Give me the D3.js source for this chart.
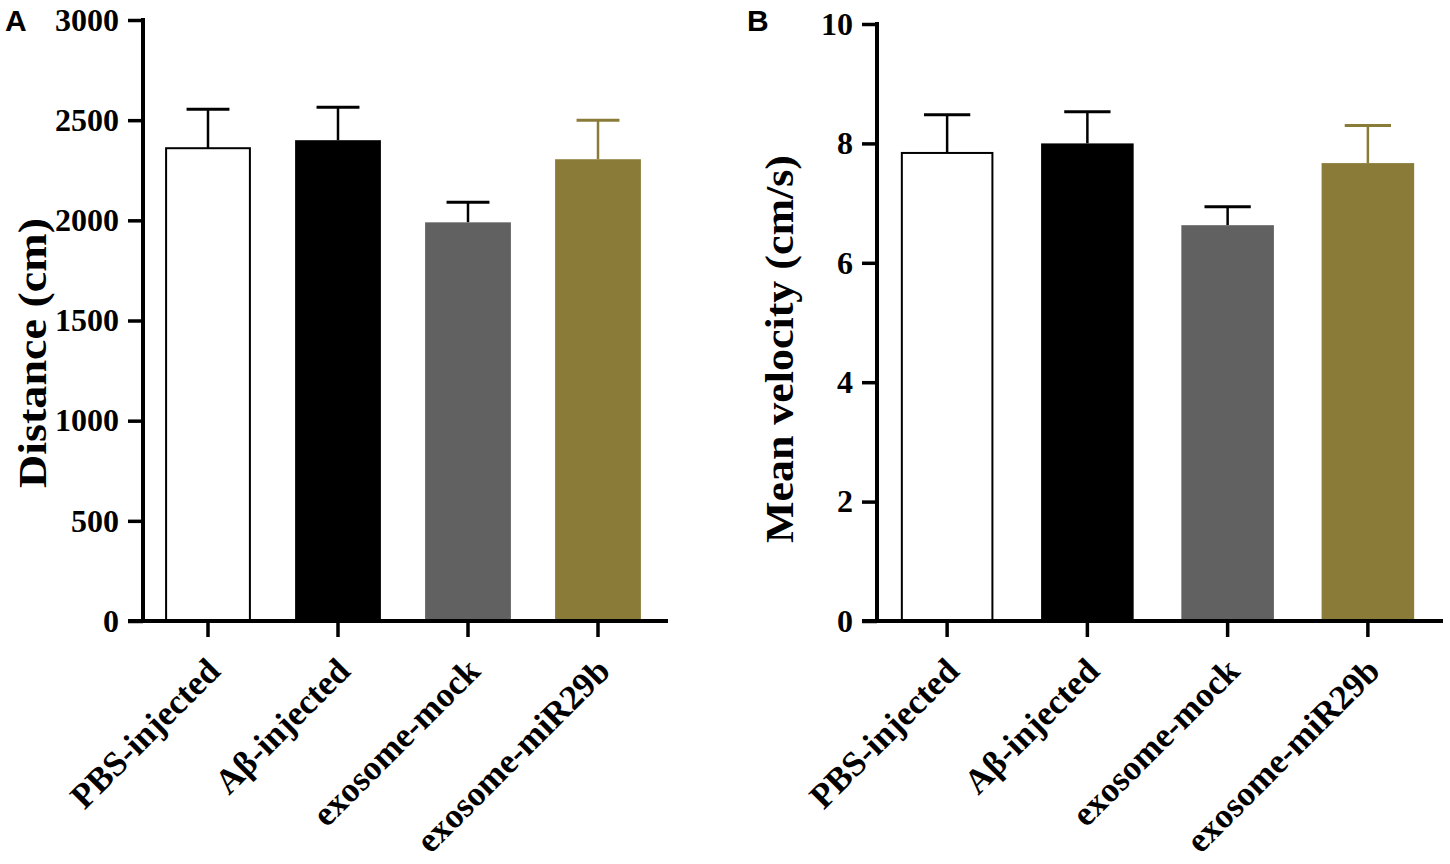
<!DOCTYPE html>
<head>
    <meta charset="utf-8">
    <script src="https://cdn.jsdelivr.net/npm/d3@7"></script>
    <style>
        body { margin: 0; background: white; }
        text { font-family: "Liberation Serif", "Times New Roman", serif; font-weight: bold; fill: black; }
    </style>
</head>

<body>
<script>

    var groups = ["PBS-injected", "A\u03b2-injected", "exosome-mock", "exosome-miR29b"];
    var colors = ["#ffffff", "#000000", "#616161", "#8b7b38"];
    var errColors = ["#000000", "#000000", "#000000", "#8b7b38"];

    // panel A: distance
    var distMean = [2360, 2400, 1990, 2305];
    var distSem = [195, 165, 100, 195];
    var distTicks = [0, 500, 1000, 1500, 2000, 2500, 3000];

    // panel B: mean velocity
    var velMean = [7.84, 8.0, 6.63, 7.67];
    var velSem = [0.64, 0.53, 0.31, 0.63];
    var velTicks = [0, 2, 4, 6, 8, 10];

    var svg = d3.select("body").append("svg")
        .attr("width", 1450)
        .attr("height", 864);

    function panel(opt) {
        var x = d3.scaleBand().domain(groups)
            .range([opt.x0, opt.x1])
            .paddingInner(0.34).paddingOuter(0.17);
        var y = d3.scaleLinear().domain([0, opt.max]).range([621, opt.top]);
        var g = svg.append("g");
        var bw = x.bandwidth();

        // error bars (upper only)
        var eb = g.selectAll(".err").data(opt.mean).enter().append("g");
        eb.append("line")
            .attr("x1", function(d, i) { return x(groups[i]) + bw / 2; })
            .attr("x2", function(d, i) { return x(groups[i]) + bw / 2; })
            .attr("y1", function(d) { return y(d); })
            .attr("y2", function(d, i) { return y(d + opt.sem[i]); })
            .style("stroke", function(d, i) { return errColors[i]; })
            .style("stroke-width", 2.5);
        eb.append("line")
            .attr("x1", function(d, i) { return x(groups[i]) + bw / 4; })
            .attr("x2", function(d, i) { return x(groups[i]) + bw * 3 / 4; })
            .attr("y1", function(d, i) { return y(d + opt.sem[i]); })
            .attr("y2", function(d, i) { return y(d + opt.sem[i]); })
            .style("stroke", function(d, i) { return errColors[i]; })
            .style("stroke-width", 3);

        g.selectAll("rect").data(opt.mean).enter().append("rect")
            .attr("x", function(d, i) { return x(groups[i]) + (i === 0 ? 1 : 0); })
            .attr("width", function(d, i) { return bw - (i === 0 ? 2 : 0); })
            .attr("y", function(d) { return y(d); })
            .attr("height", function(d) { return y(0) - y(d); })
            .style("fill", function(d, i) { return colors[i]; })
            .style("stroke", function(d, i) { return i === 0 ? "black" : "none"; })
            .style("stroke-width", 2);

        // y axis
        var ya = g.append("g").attr("transform", "translate(" + opt.x0 + ",0)")
            .call(d3.axisLeft(y).tickValues(opt.ticks).tickFormat(d3.format("d"))
                .tickSize(15).tickSizeOuter(0).tickPadding(9));
        ya.select(".domain").style("stroke-width", 4).attr("d", "M0," + (y(0) + 2) + "V" + (y(opt.max) - 2));
        ya.selectAll(".tick line").style("stroke-width", 3.5);
        ya.selectAll(".tick text")
            .style("font-size", "32px")
            .style("font-family", "'Liberation Serif', serif")
            .style("font-weight", "bold");

        // x axis
        var xa = g.append("g").attr("transform", "translate(0,621)")
            .call(d3.axisBottom(x).tickSize(16).tickSizeOuter(0));
        xa.select(".domain").remove();
        xa.append("line")
            .attr("x1", opt.x0 - 15).attr("x2", opt.x1 + 5)
            .attr("y1", 0).attr("y2", 0)
            .style("stroke", "black").style("stroke-width", 4);
        xa.selectAll(".tick line").style("stroke-width", 3.5);
        xa.selectAll(".tick text")
            .attr("x", 14).attr("y", 52).attr("dy", 0)
            .attr("transform", "rotate(-45, 14, 52)")
            .style("text-anchor", "end")
            .style("font-size", "35px")
            .style("font-family", "'Liberation Serif', serif")
            .style("font-weight", "bold");

        svg.append("text")
            .attr("transform", "translate(" + opt.titleX + "," + opt.titleY + ") rotate(-90)")
            .attr("text-anchor", "middle")
            .attr("textLength", opt.titleLen)
            .attr("lengthAdjust", "spacingAndGlyphs")
            .style("font-size", "40px")
            .text(opt.title);

        svg.append("text")
            .attr("x", opt.letterX).attr("y", 31)
            .style("font-family", "'Liberation Sans', Arial, sans-serif")
            .style("font-weight", "bold")
            .style("font-size", "30px")
            .text(opt.letter);
    }

    panel({ x0: 143, x1: 663, max: 3000, top: 20, ticks: distTicks,
        mean: distMean, sem: distSem, title: "Distance (cm)",
        titleX: 46, titleY: 353, titleLen: 270, letter: "A", letterX: 5 });

    panel({ x0: 877, x1: 1438, max: 10, top: 24, ticks: velTicks,
        mean: velMean, sem: velSem, title: "Mean velocity (cm/s)",
        titleX: 793, titleY: 349, titleLen: 388, letter: "B", letterX: 747 });

</script>
</body>
